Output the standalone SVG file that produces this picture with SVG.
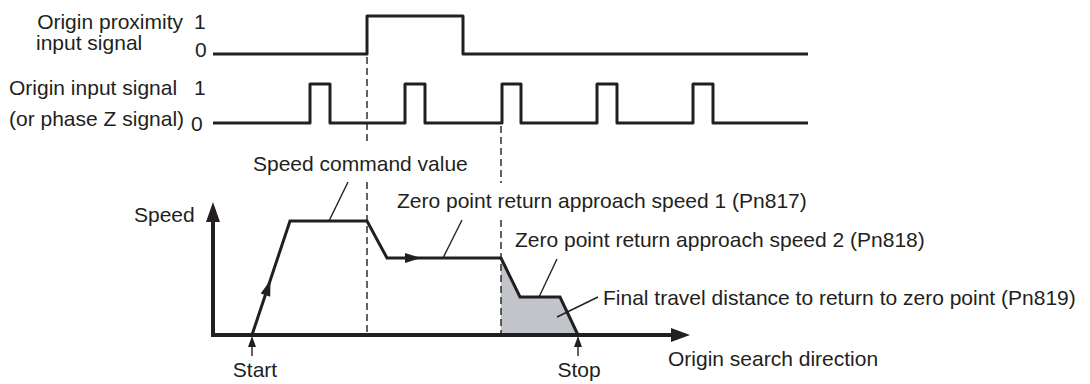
<svg xmlns="http://www.w3.org/2000/svg" width="1090" height="384" viewBox="0 0 1090 384">
<style>
text{font-family:"Liberation Sans",Arial,sans-serif;font-size:21px;fill:#231f20}
.sig{fill:none;stroke:#231f20;stroke-width:3;stroke-linejoin:round}
.axis{fill:none;stroke:#231f20;stroke-width:4}
.prof{fill:none;stroke:#231f20;stroke-width:3;stroke-linejoin:miter}
.lead{fill:none;stroke:#231f20;stroke-width:1.4}
.dash{fill:none;stroke:#231f20;stroke-width:1.4;stroke-dasharray:7 4}
.head{fill:#231f20}
</style>
<rect width="1090" height="384" fill="#fff"/>
<g id="signal-proximity">
<text x="183" y="29" text-anchor="end">Origin proximity</text>
<text x="36" y="50">input signal</text>
<text x="194" y="29">1</text>
<text x="195" y="57">0</text>
<polyline class="sig" points="213,54 367,54 367,16 463,16 463,54 808,54"/>
</g>
<g id="signal-origin">
<text x="9" y="95">Origin input signal</text>
<text x="9" y="126">(or phase Z signal)</text>
<text x="194" y="95">1</text>
<text x="191" y="131">0</text>
<polyline class="sig" points="213,123 310,123 310,84 330,84 330,123 405,123 405,84 425,84 425,123 502,123 502,84 521,84 521,123 597,123 597,84 617,84 617,123 693,123 693,84 713,84 713,123 808,123"/>
</g>
<g id="speed-chart">
<polygon points="501,258 520,297 560,297 578,335 501,335" fill="#c1c4c9"/>
<line class="axis" x1="213" y1="337" x2="213" y2="218"/>
<polygon class="head" points="213,202 206,222 220,222"/>
<line class="axis" x1="211" y1="335" x2="674" y2="335"/>
<polygon class="head" points="690,335 671,328 671,342"/>
<polyline class="prof" points="252,335 290,221 367,221 387,258 501,258 520,297 560,297 578,335"/>
<polygon class="head" points="270.5,280 270.2,296.8 260.7,293.6"/>
<polygon class="head" points="421,258 405,253 405,263"/>
<text x="134" y="222">Speed</text>
</g>
<g id="labels">
<text x="253" y="171">Speed command value</text>
<text x="397" y="208">Zero point return approach speed 1 (Pn817)</text>
<text x="515" y="247">Zero point return approach speed 2 (Pn818)</text>
<text x="603" y="305">Final travel distance to return to zero point (Pn819)</text>
<text x="668" y="366">Origin search direction</text>
<text x="255" y="377" text-anchor="middle">Start</text>
<text x="579" y="377" text-anchor="middle">Stop</text>
</g>
<g id="connectors">
<line class="dash" x1="367" y1="57" x2="367" y2="144"/>
<line class="dash" x1="367" y1="182" x2="367" y2="335"/>
<line class="dash" x1="501" y1="126" x2="501" y2="183"/>
<line class="dash" x1="501" y1="220" x2="501" y2="335"/>
<line class="lead" x1="348" y1="182" x2="329" y2="221"/>
<line class="lead" x1="462" y1="220" x2="443" y2="258"/>
<line class="lead" x1="557" y1="259" x2="539" y2="297"/>
<line class="lead" x1="598" y1="297" x2="557" y2="317"/>
<line class="lead" x1="252" y1="346" x2="252" y2="356"/>
<polygon class="head" points="252,336 248,347 256,347"/>
<line class="lead" x1="578" y1="346" x2="578" y2="356"/>
<polygon class="head" points="578,336 574,347 582,347"/>
</g>
</svg>
